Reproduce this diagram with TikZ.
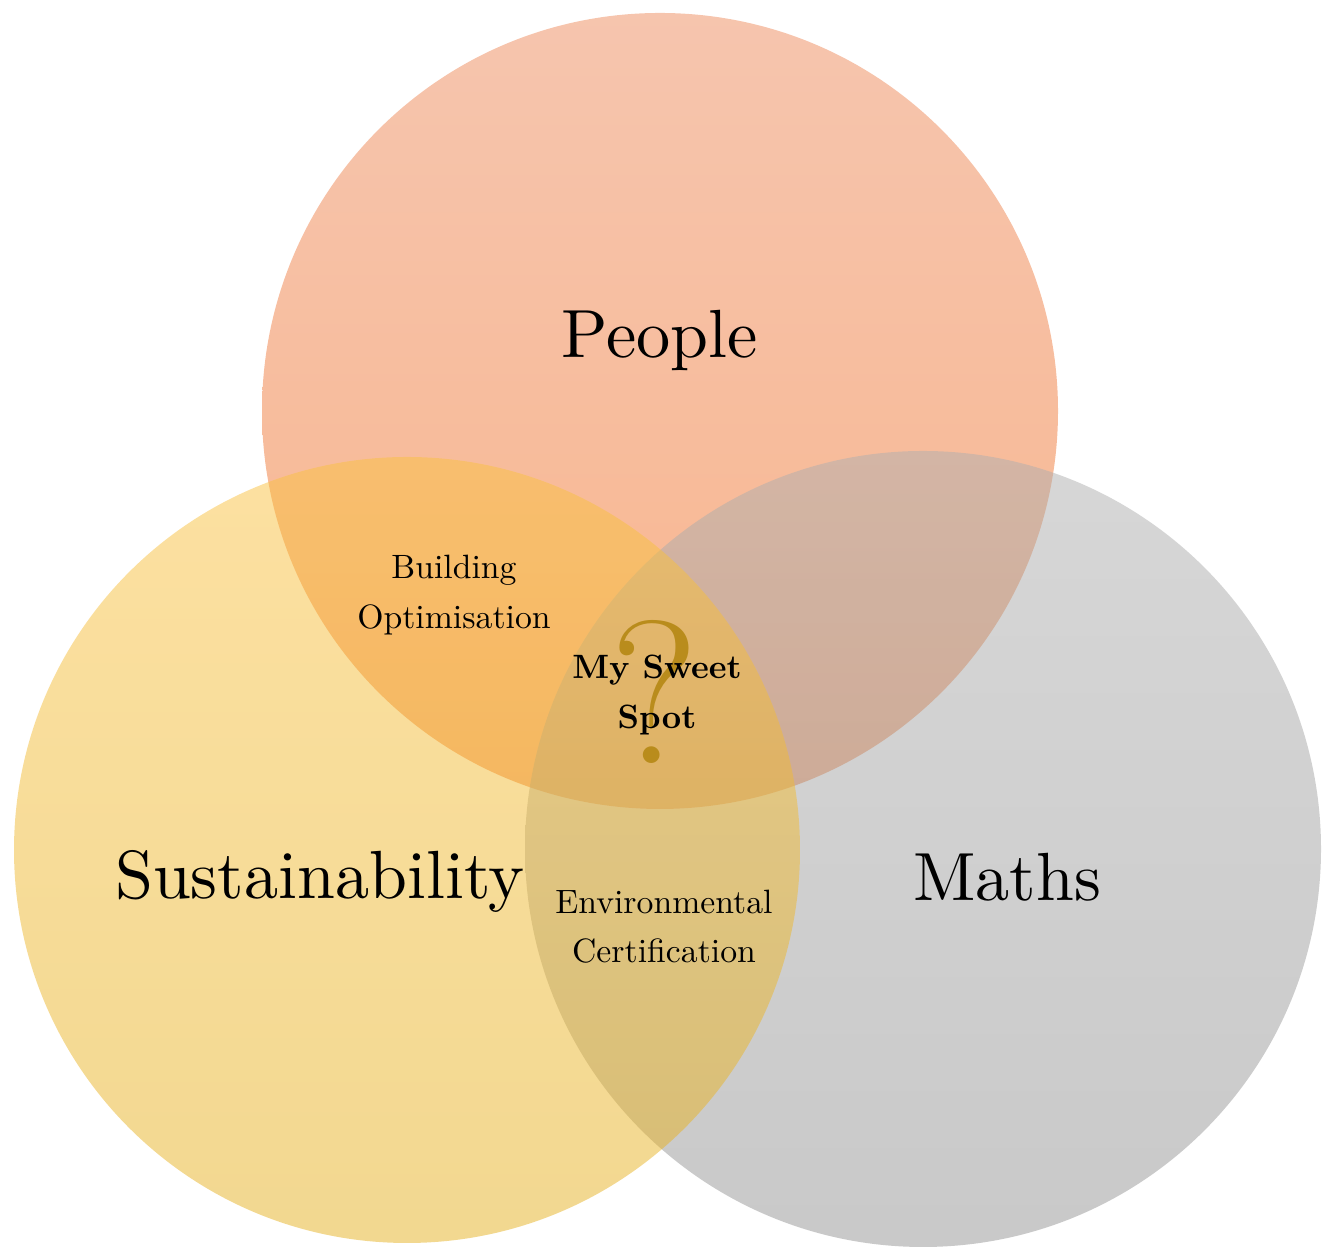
\documentclass[tikz,border=0pt]{standalone}
\usepackage{tikz}
\usetikzlibrary{positioning}
\usepackage{xcolor}
\definecolor{peopletop}{HTML}{ED8B5D}
\definecolor{peoplebottom}{HTML}{F36B1B}
\definecolor{susttop}{HTML}{FAC243}
\definecolor{sustbottom}{HTML}{E5B121}
\definecolor{mathstop}{HTML}{AFAFAF}
\definecolor{mathsbottom}{HTML}{939393}
\definecolor{sweetgold}{HTML}{B98C1C}

\begin{document}
\begin{tikzpicture}[
    venn/.style={circle, inner sep=0pt, fill opacity=0.5},
    bigname/.style={font=\fontsize{10}{12}\selectfont, scale=1.94},
    smalltext/.style={font=\fontsize{9.6}{14}\selectfont, align=center}
  ]
  \useasboundingbox (0,0) rectangle (13.34,12.54);
  \node[venn, minimum size=7.96cm, top color=peopletop, bottom color=peoplebottom] (people) at (6.60,8.43) {};
  \node[venn, minimum size=7.96cm, top color=mathstop, bottom color=mathsbottom] (maths) at (9.23,4.05) {};
  \node[venn, minimum size=7.86cm, top color=susttop, bottom color=sustbottom] (sustain) at (4.07,4.04) {};
  \node[text=sweetgold, font=\fontsize{58}{60}\selectfont] (question) at (6.55,5.62) {?};
  \node[bigname] (peoplelabel) at (6.60,9.14) {People};
  \node[bigname] (sustainlabel) at (3.20,3.73) {Sustainability};
  \node[bigname] (mathslabel) at (10.07,3.77) {Maths};
  \node[smalltext] (building) at (4.54,6.59) {Building\\Optimisation};
  \node[smalltext, font=\fontsize{9.6}{14}\selectfont\bfseries] (sweetspot) at (6.57,5.59) {My Sweet\\Spot};
  \node[smalltext] (certification) at (6.64,3.27) {Environmental\\Certification};
\end{tikzpicture}
\end{document}
